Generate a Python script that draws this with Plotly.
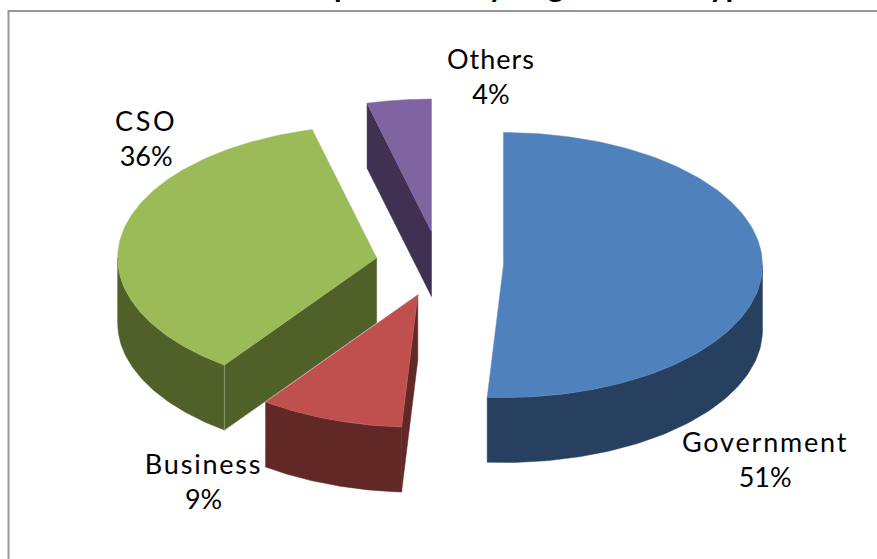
import json

import numpy as np
import plotly.graph_objects as go

# Chart data
categories = ["Government", "Business", "CSO", "Others"]
shares = [51, 9, 36, 4]
top_colors = ["#4F81BD", "#C0504D", "#9BBB59", "#8064A2"]
side_colors = ["#27405F", "#622826", "#4F6129", "#403152"]
edge_colors = ["#5E8CC4", "#C75F5C", "#A5C268", "#8C72AC"]
title_text = "Respondents by Organization type"

# Projection of the tilted pie, in canvas pixels
WIDTH, HEIGHT = 877, 559
CX, CY = 439.5, 264
RX, RY = 259, 132.5
EXPLODE = 64
DEPTH = 65

# Label centres (x, y of the block) in canvas pixels
label_pos = {
    "Government": (765, 459),
    "Business": (203, 481),
    "CSO": (146, 138),
    "Others": (491, 76),
}

# Extra spacing between the letters of each category name, in px
name_tracking = {"Government": 1.8, "Business": 1.8, "CSO": 2.6, "Others": 1.0}


def rim(apex, angles):
    """Points on the rim of a slice; angles run clockwise from 12 o'clock."""
    rad = np.radians(angles)
    return apex[0] + RX * np.sin(rad), apex[1] - RY * np.cos(rad)


def polygon(fig, xs, ys, fill, line, width=0.7):
    fig.add_trace(go.Scatter(
        x=list(xs) + [xs[0]], y=list(ys) + [ys[0]], mode="lines", fill="toself",
        fillcolor=fill, line=dict(color=line, width=width),
        hoverinfo="skip", showlegend=False,
    ))


fig = go.Figure()

bounds = np.concatenate([[0], np.cumsum(shares)]) * 3.6
slices = []
for i, name in enumerate(categories):
    start, end = bounds[i], bounds[i + 1]
    mid = np.radians((start + end) / 2)
    k = RY / RX
    apex = (CX + EXPLODE * np.sin(mid), CY - EXPLODE * k * np.cos(mid))
    slices.append((i, start, end, apex))

# Painter's order: back slices first, the front wedge last
for i, start, end, apex in [slices[3], slices[2], slices[0], slices[1]]:
    # Radial walls that face the viewer
    for edge, normal in ((start, start - 90), (end, end + 90)):
        if np.cos(np.radians(normal)) < -1e-6:
            ex, ey = rim(apex, np.array([edge]))
            xs = [apex[0], ex[0], ex[0], apex[0]]
            ys = [apex[1], ey[0], ey[0] + DEPTH, apex[1] + DEPTH]
            polygon(fig, xs, ys, side_colors[i], side_colors[i], 0.5)

    # Outer curved wall, only on the near half of the rim
    lo, hi = max(start, 90), min(end, 270)
    if hi > lo:
        ang = np.linspace(lo, hi, 80)
        ax, ay = rim(apex, ang)
        xs = np.concatenate([ax, ax[::-1]])
        ys = np.concatenate([ay, ay[::-1] + DEPTH])
        polygon(fig, xs, ys, side_colors[i], side_colors[i], 0.5)

    # Top face
    ang = np.linspace(start, end, 160)
    ax, ay = rim(apex, ang)
    polygon(fig, np.concatenate([[apex[0]], ax]), np.concatenate([[apex[1]], ay]),
            top_colors[i], edge_colors[i], 0.5)

# Seam between the two visible walls of the CSO wedge
_, s, _, a = slices[2]
sx, sy = rim(a, np.array([s]))
fig.add_trace(go.Scatter(x=[sx[0], sx[0]], y=[sy[0], sy[0] + DEPTH], mode="lines",
                         line=dict(color="#8A9A6E", width=1), hoverinfo="skip",
                         showlegend=False))

for name, share in zip(categories, shares):
    x, y = label_pos[name]
    fig.add_annotation(x=x, y=y, xref="x", yref="y", showarrow=False, align="center",
                       text=f"{name}<br>{share}%",
                       font=dict(family="Lato", size=27, color="#000000"))

# Title sits mostly above the chart frame, running off the top of the page
fig.add_annotation(x=522 / WIDTH, y=1 + 15 / HEIGHT, xref="paper", yref="paper",
                   xanchor="center", yanchor="middle", showarrow=False, text=title_text,
                   font=dict(family="Lato", size=31, weight="bold", color="#000000"))

fig.update_layout(
    width=WIDTH, height=HEIGHT, margin=dict(l=0, r=0, t=0, b=0),
    paper_bgcolor="#FFFFFF", plot_bgcolor="#FFFFFF",
    xaxis=dict(range=[0, WIDTH], visible=False, fixedrange=True),
    yaxis=dict(range=[HEIGHT, 0], visible=False, fixedrange=True),
    shapes=[dict(type="rect", xref="x", yref="y", x0=8.5, y0=11, x1=WIDTH + 20, y1=HEIGHT + 20,
                 line=dict(color="#989898", width=2), layer="below")],
)

# Tracked-out category names on the first line of each label
tracking = """
var spacing = %s;
document.querySelectorAll('.annotation-text tspan.line').forEach(function (line) {
  var px = spacing[line.textContent];
  if (px) { line.style.letterSpacing = px + 'px'; }
});
""" % json.dumps(name_tracking)

fig.write_html("out.html", config={"displayModeBar": False}, post_script=tracking)
